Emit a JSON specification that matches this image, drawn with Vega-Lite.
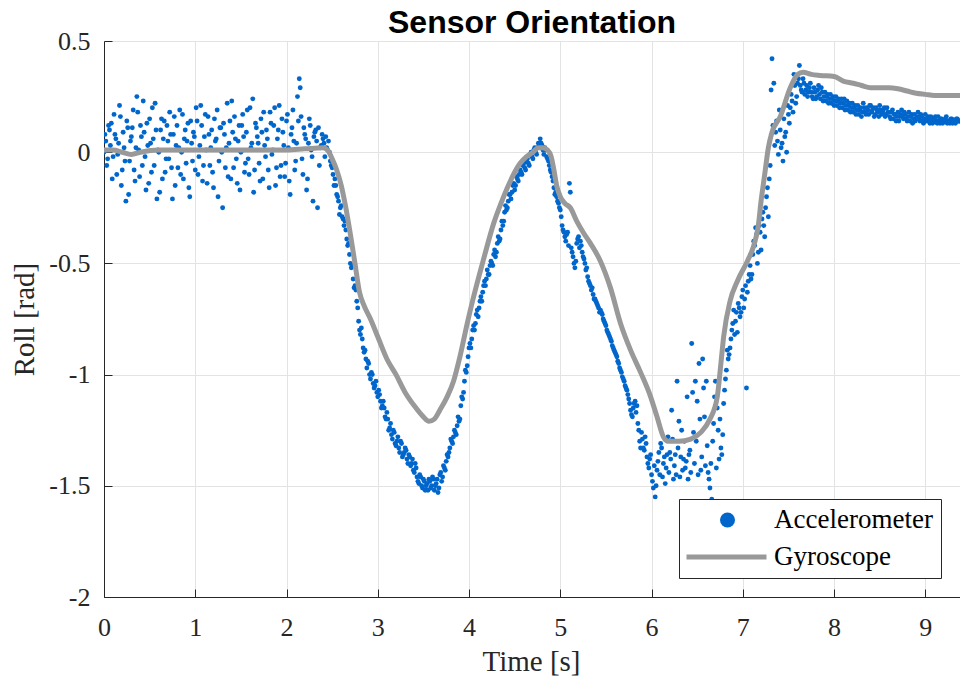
{
  "$schema": "https://vega.github.io/schema/vega-lite/v6.json",
  "width": 856,
  "height": 556,
  "autosize": {"type": "none"},
  "padding": {"left": 104, "top": 41, "right": 0, "bottom": 85},
  "background": "white",
  "title": {"text": "Sensor Orientation", "font": "Liberation Sans", "fontSize": 32, "fontWeight": "bold", "color": "#000000", "anchor": "middle", "baseline": "alphabetic", "offset": 9, "dy": 46},
  "config": {"view": {"stroke": null}},
  "datasets": {
    "acc": [
      {"t":0.00,"v":0.00},{"t":0.02,"v":0.05},{"t":0.04,"v":-0.03},{"t":0.06,"v":0.10},{"t":0.08,"v":0.13},{"t":0.10,"v":-0.02},{"t":0.12,"v":0.08},{"t":0.14,"v":-0.10},{"t":0.16,"v":0.04},{"t":0.18,"v":0.16},
      {"t":0.20,"v":-0.08},{"t":0.22,"v":0.02},{"t":0.24,"v":-0.22},{"t":0.26,"v":0.11},{"t":0.28,"v":-0.04},{"t":0.30,"v":0.07},{"t":0.32,"v":0.19},{"t":0.34,"v":-0.13},{"t":0.36,"v":0.25},{"t":0.38,"v":0.01},
      {"t":0.40,"v":0.12},{"t":0.42,"v":-0.06},{"t":0.44,"v":0.09},{"t":0.46,"v":-0.17},{"t":0.48,"v":0.03},{"t":0.50,"v":0.15},{"t":0.52,"v":-0.09},{"t":0.54,"v":0.06},{"t":0.56,"v":0.22},{"t":0.58,"v":-0.21},
      {"t":0.60,"v":0.00},{"t":0.62,"v":0.10},{"t":0.64,"v":-0.12},{"t":0.66,"v":0.14},{"t":0.68,"v":-0.03},{"t":0.70,"v":0.05},{"t":0.72,"v":0.18},{"t":0.74,"v":-0.07},{"t":0.76,"v":0.08},{"t":0.78,"v":-0.15},
      {"t":0.80,"v":0.12},{"t":0.82,"v":0.02},{"t":0.84,"v":-0.10},{"t":0.86,"v":0.17},{"t":0.88,"v":0.06},{"t":0.90,"v":-0.05},{"t":0.92,"v":0.13},{"t":0.94,"v":-0.20},{"t":0.96,"v":0.04},{"t":0.98,"v":0.09},
      {"t":1.00,"v":-0.08},{"t":1.02,"v":0.14},{"t":1.04,"v":-0.02},{"t":1.06,"v":0.21},{"t":1.08,"v":-0.13},{"t":1.10,"v":0.07},{"t":1.12,"v":0.01},{"t":1.14,"v":0.16},{"t":1.16,"v":-0.06},{"t":1.18,"v":0.10},
      {"t":1.20,"v":-0.16},{"t":1.22,"v":0.05},{"t":1.24,"v":0.19},{"t":1.26,"v":-0.04},{"t":1.28,"v":0.11},{"t":1.30,"v":-0.25},{"t":1.32,"v":0.08},{"t":1.34,"v":0.02},{"t":1.36,"v":-0.11},{"t":1.38,"v":0.14},
      {"t":1.40,"v":0.23},{"t":1.42,"v":-0.07},{"t":1.44,"v":0.06},{"t":1.46,"v":-0.14},{"t":1.48,"v":0.12},{"t":1.50,"v":0.00},{"t":1.52,"v":0.17},{"t":1.54,"v":-0.09},{"t":1.56,"v":0.09},{"t":1.58,"v":-0.03},
      {"t":1.60,"v":0.20},{"t":1.62,"v":0.04},{"t":1.64,"v":-0.18},{"t":1.66,"v":0.13},{"t":1.68,"v":0.07},{"t":1.70,"v":-0.05},{"t":1.72,"v":0.15},{"t":1.74,"v":-0.12},{"t":1.76,"v":0.03},{"t":1.78,"v":0.10},
      {"t":1.80,"v":-0.08},{"t":1.82,"v":0.18},{"t":1.84,"v":-0.01},{"t":1.86,"v":0.12},{"t":1.88,"v":-0.15},{"t":1.90,"v":0.06},{"t":1.92,"v":0.21},{"t":1.94,"v":-0.06},{"t":1.96,"v":0.09},{"t":1.98,"v":-0.11},
      {"t":2.00,"v":0.14},{"t":2.02,"v":0.02},{"t":2.04,"v":-0.19},{"t":2.06,"v":0.11},{"t":2.08,"v":0.05},{"t":2.10,"v":-0.04},{"t":2.12,"v":0.25},{"t":2.14,"v":0.33},{"t":2.16,"v":0.16},{"t":2.18,"v":-0.10},
      {"t":2.20,"v":0.08},{"t":2.22,"v":-0.17},{"t":2.24,"v":0.04},{"t":2.26,"v":0.12},{"t":2.28,"v":-0.02},{"t":2.30,"v":0.07},{"t":2.32,"v":0.10},{"t":2.34,"v":-0.25},{"t":2.36,"v":-0.06},{"t":2.38,"v":0.03},
      {"t":2.40,"v":0.06},{"t":2.42,"v":-0.02},{"t":2.44,"v":0.02},{"t":2.46,"v":0.05},{"t":2.48,"v":-0.04},{"t":2.50,"v":-0.07},{"t":2.52,"v":-0.15},{"t":2.54,"v":-0.15},{"t":2.56,"v":-0.20},{"t":2.58,"v":-0.28},
      {"t":2.60,"v":-0.24},{"t":2.62,"v":-0.30},{"t":2.64,"v":-0.31},{"t":2.66,"v":-0.39},{"t":2.68,"v":-0.41},{"t":2.70,"v":-0.50},{"t":2.72,"v":-0.51},{"t":2.74,"v":-0.61},{"t":2.76,"v":-0.62},{"t":2.78,"v":-0.70},
      {"t":2.80,"v":-0.80},{"t":2.82,"v":-0.79},{"t":2.84,"v":-0.88},{"t":2.86,"v":-0.89},{"t":2.88,"v":-0.97},{"t":2.90,"v":-0.95},{"t":2.92,"v":-1.02},{"t":2.94,"v":-1.00},{"t":2.96,"v":-1.06},{"t":2.98,"v":-1.03},
      {"t":3.00,"v":-1.10},{"t":3.02,"v":-1.09},{"t":3.04,"v":-1.15},{"t":3.06,"v":-1.12},{"t":3.08,"v":-1.19},{"t":3.10,"v":-1.17},{"t":3.12,"v":-1.25},{"t":3.14,"v":-1.22},{"t":3.16,"v":-1.29},{"t":3.18,"v":-1.26},
      {"t":3.20,"v":-1.32},{"t":3.22,"v":-1.28},{"t":3.24,"v":-1.35},{"t":3.26,"v":-1.31},{"t":3.28,"v":-1.36},{"t":3.30,"v":-1.33},{"t":3.32,"v":-1.38},{"t":3.34,"v":-1.36},{"t":3.36,"v":-1.41},{"t":3.38,"v":-1.38},
      {"t":3.40,"v":-1.44},{"t":3.42,"v":-1.42},{"t":3.44,"v":-1.48},{"t":3.46,"v":-1.45},{"t":3.48,"v":-1.50},{"t":3.50,"v":-1.47},{"t":3.52,"v":-1.52},{"t":3.54,"v":-1.49},{"t":3.56,"v":-1.47},{"t":3.58,"v":-1.51},
      {"t":3.60,"v":-1.46},{"t":3.62,"v":-1.52},{"t":3.64,"v":-1.49},{"t":3.66,"v":-1.53},{"t":3.68,"v":-1.45},{"t":3.70,"v":-1.48},{"t":3.72,"v":-1.41},{"t":3.74,"v":-1.43},{"t":3.76,"v":-1.36},{"t":3.78,"v":-1.35},
      {"t":3.80,"v":-1.29},{"t":3.82,"v":-1.31},{"t":3.84,"v":-1.25},{"t":3.86,"v":-1.27},{"t":3.88,"v":-1.19},{"t":3.90,"v":-1.20},{"t":3.92,"v":-1.10},{"t":3.94,"v":-1.08},{"t":3.96,"v":-0.98},{"t":3.98,"v":-0.96},
      {"t":4.00,"v":-0.88},{"t":4.02,"v":-0.88},{"t":4.04,"v":-0.80},{"t":4.06,"v":-0.80},{"t":4.08,"v":-0.73},{"t":4.10,"v":-0.74},{"t":4.12,"v":-0.67},{"t":4.14,"v":-0.67},{"t":4.16,"v":-0.60},{"t":4.18,"v":-0.60},
      {"t":4.20,"v":-0.53},{"t":4.22,"v":-0.55},{"t":4.24,"v":-0.49},{"t":4.26,"v":-0.51},{"t":4.28,"v":-0.44},{"t":4.30,"v":-0.45},{"t":4.32,"v":-0.38},{"t":4.34,"v":-0.39},{"t":4.36,"v":-0.31},{"t":4.38,"v":-0.31},
      {"t":4.40,"v":-0.24},{"t":4.42,"v":-0.25},{"t":4.44,"v":-0.19},{"t":4.46,"v":-0.21},{"t":4.48,"v":-0.15},{"t":4.50,"v":-0.17},{"t":4.52,"v":-0.11},{"t":4.54,"v":-0.13},{"t":4.56,"v":-0.08},{"t":4.58,"v":-0.10},
      {"t":4.60,"v":-0.05},{"t":4.62,"v":-0.08},{"t":4.64,"v":-0.03},{"t":4.66,"v":-0.06},{"t":4.68,"v":0.00},{"t":4.70,"v":-0.03},{"t":4.72,"v":0.02},{"t":4.74,"v":-0.01},{"t":4.76,"v":0.04},{"t":4.78,"v":0.06},
      {"t":4.80,"v":0.03},{"t":4.82,"v":-0.01},{"t":4.84,"v":0.01},{"t":4.86,"v":-0.03},{"t":4.88,"v":-0.06},{"t":4.90,"v":-0.09},{"t":4.92,"v":-0.13},{"t":4.94,"v":-0.19},{"t":4.96,"v":-0.20},{"t":4.98,"v":-0.23},
      {"t":5.00,"v":-0.26},{"t":5.02,"v":-0.33},{"t":5.04,"v":-0.36},{"t":5.06,"v":-0.40},{"t":5.08,"v":-0.36},{"t":5.10,"v":-0.14},{"t":5.12,"v":-0.43},{"t":5.14,"v":-0.47},{"t":5.16,"v":-0.52},{"t":5.18,"v":-0.41},
      {"t":5.20,"v":-0.38},{"t":5.22,"v":-0.40},{"t":5.24,"v":-0.45},{"t":5.26,"v":-0.48},{"t":5.28,"v":-0.53},{"t":5.30,"v":-0.56},{"t":5.32,"v":-0.59},{"t":5.34,"v":-0.62},{"t":5.36,"v":-0.64},{"t":5.38,"v":-0.66},
      {"t":5.40,"v":-0.68},{"t":5.42,"v":-0.70},{"t":5.44,"v":-0.71},{"t":5.46,"v":-0.73},{"t":5.48,"v":-0.76},{"t":5.50,"v":-0.78},{"t":5.52,"v":-0.81},{"t":5.54,"v":-0.83},{"t":5.56,"v":-0.85},{"t":5.58,"v":-0.88},
      {"t":5.60,"v":-0.90},{"t":5.62,"v":-0.92},{"t":5.64,"v":-0.95},{"t":5.66,"v":-0.98},{"t":5.68,"v":-1.01},{"t":5.70,"v":-1.03},{"t":5.72,"v":-1.06},{"t":5.74,"v":-1.09},{"t":5.76,"v":-1.13},{"t":5.78,"v":-1.18},
      {"t":5.80,"v":-1.15},{"t":5.82,"v":-1.12},{"t":5.84,"v":-1.14},{"t":5.86,"v":-1.25},{"t":5.88,"v":-1.33},{"t":5.90,"v":-1.29},{"t":5.92,"v":-1.34},{"t":5.94,"v":-1.31},{"t":5.96,"v":-1.40},{"t":5.98,"v":-1.38},
      {"t":6.00,"v":-1.45},{"t":6.02,"v":-1.51},{"t":6.04,"v":-1.55},{"t":6.06,"v":-1.43},{"t":6.08,"v":-1.35},{"t":6.10,"v":-1.31},{"t":6.12,"v":-1.46},{"t":6.14,"v":-1.37},{"t":6.16,"v":-1.42},{"t":6.18,"v":-1.28},
      {"t":6.20,"v":-1.35},{"t":6.22,"v":-1.16},{"t":6.24,"v":-1.47},{"t":6.26,"v":-1.36},{"t":6.28,"v":-1.03},{"t":6.30,"v":-1.21},{"t":6.32,"v":-1.37},{"t":6.34,"v":-1.43},{"t":6.36,"v":-1.30},{"t":6.38,"v":-1.39},
      {"t":6.40,"v":-1.47},{"t":6.42,"v":-1.34},{"t":6.44,"v":-0.86},{"t":6.46,"v":-1.26},{"t":6.48,"v":-1.03},{"t":6.50,"v":-1.12},{"t":6.52,"v":-0.95},{"t":6.54,"v":-1.43},{"t":6.56,"v":-0.93},{"t":6.58,"v":-1.19},
      {"t":6.60,"v":-1.03},{"t":6.62,"v":-1.44},{"t":6.64,"v":-1.51},{"t":6.66,"v":-1.56},{"t":6.68,"v":-1.22},{"t":6.70,"v":-1.03},{"t":6.72,"v":-1.15},{"t":6.74,"v":-1.38},{"t":6.76,"v":-1.33},{"t":6.78,"v":-1.27},
      {"t":6.80,"v":-1.07},{"t":6.82,"v":-0.98},{"t":6.84,"v":-0.93},{"t":6.86,"v":-0.88},{"t":6.88,"v":-0.80},{"t":6.90,"v":-0.71},{"t":6.92,"v":-0.76},{"t":6.94,"v":-0.81},{"t":6.96,"v":-0.70},{"t":6.98,"v":-0.72},
      {"t":7.00,"v":-0.62},{"t":7.02,"v":-0.66},{"t":7.04,"v":-1.06},{"t":7.06,"v":-0.58},{"t":7.08,"v":-0.51},{"t":7.10,"v":-0.55},{"t":7.12,"v":-0.40},{"t":7.14,"v":-0.34},{"t":7.16,"v":-0.50},{"t":7.18,"v":-0.33},
      {"t":7.20,"v":-0.44},{"t":7.22,"v":-0.27},{"t":7.24,"v":-0.38},{"t":7.26,"v":-0.20},{"t":7.28,"v":-0.29},{"t":7.30,"v":-0.06},{"t":7.32,"v":0.42},{"t":7.34,"v":0.31},{"t":7.36,"v":0.09},{"t":7.38,"v":0.05},
      {"t":7.40,"v":0.19},{"t":7.42,"v":0.02},{"t":7.44,"v":-0.04},{"t":7.46,"v":0.07},{"t":7.48,"v":0.00},{"t":7.50,"v":0.17},{"t":7.52,"v":0.20},{"t":7.54,"v":0.23},{"t":7.56,"v":0.35},{"t":7.58,"v":0.22},
      {"t":7.60,"v":0.31},{"t":7.62,"v":0.39},{"t":7.64,"v":0.28},{"t":7.66,"v":0.33},{"t":7.68,"v":0.26},{"t":7.70,"v":0.30},{"t":7.72,"v":0.27},{"t":7.74,"v":0.31},{"t":7.76,"v":0.25},{"t":7.78,"v":0.29},
      {"t":7.80,"v":0.24},{"t":7.82,"v":0.28},{"t":7.84,"v":0.26},{"t":7.86,"v":0.29},{"t":7.88,"v":0.23},{"t":7.90,"v":0.27},{"t":7.92,"v":0.25},{"t":7.94,"v":0.22},{"t":7.96,"v":0.26},{"t":7.98,"v":0.24},
      {"t":8.00,"v":0.21},{"t":8.02,"v":0.25},{"t":8.04,"v":0.23},{"t":8.06,"v":0.20},{"t":8.08,"v":0.24},{"t":8.10,"v":0.22},{"t":8.12,"v":0.19},{"t":8.14,"v":0.23},{"t":8.16,"v":0.21},{"t":8.18,"v":0.18},
      {"t":8.20,"v":0.22},{"t":8.22,"v":0.20},{"t":8.24,"v":0.17},{"t":8.26,"v":0.21},{"t":8.28,"v":0.19},{"t":8.30,"v":0.16},{"t":8.32,"v":0.22},{"t":8.34,"v":0.18},{"t":8.36,"v":0.20},{"t":8.38,"v":0.17},
      {"t":8.40,"v":0.21},{"t":8.42,"v":0.19},{"t":8.44,"v":0.16},{"t":8.46,"v":0.20},{"t":8.48,"v":0.18},{"t":8.50,"v":0.21},{"t":8.52,"v":0.17},{"t":8.54,"v":0.19},{"t":8.56,"v":0.16},{"t":8.58,"v":0.20},
      {"t":8.60,"v":0.18},{"t":8.62,"v":0.15},{"t":8.64,"v":0.19},{"t":8.66,"v":0.17},{"t":8.68,"v":0.14},{"t":8.70,"v":0.18},{"t":8.72,"v":0.16},{"t":8.74,"v":0.19},{"t":8.76,"v":0.15},{"t":8.78,"v":0.17},
      {"t":8.80,"v":0.14},{"t":8.82,"v":0.18},{"t":8.84,"v":0.16},{"t":8.86,"v":0.13},{"t":8.88,"v":0.17},{"t":8.90,"v":0.15},{"t":8.92,"v":0.18},{"t":8.94,"v":0.14},{"t":8.96,"v":0.16},{"t":8.98,"v":0.13},
      {"t":9.00,"v":0.17},{"t":9.02,"v":0.15},{"t":9.04,"v":0.14},{"t":9.06,"v":0.16},{"t":9.08,"v":0.13},{"t":9.10,"v":0.15},{"t":9.12,"v":0.14},{"t":9.14,"v":0.16},{"t":9.16,"v":0.13},{"t":9.18,"v":0.15},
      {"t":9.20,"v":0.14},{"t":9.22,"v":0.15},{"t":9.24,"v":0.13},{"t":9.26,"v":0.14},{"t":9.28,"v":0.15},{"t":9.30,"v":0.13},{"t":9.32,"v":0.14},{"t":9.34,"v":0.15},{"t":9.36,"v":0.14},{"t":9.38,"v":0.14},
      {"t":0.01,"v":0.08},{"t":0.03,"v":-0.06},{"t":0.05,"v":0.12},{"t":0.07,"v":0.03},{"t":0.09,"v":-0.12},{"t":0.11,"v":0.17},{"t":0.13,"v":0.06},{"t":0.15,"v":-0.01},{"t":0.17,"v":0.21},{"t":0.19,"v":-0.15},
      {"t":0.21,"v":0.09},{"t":0.23,"v":-0.04},{"t":0.25,"v":0.14},{"t":0.27,"v":-0.19},{"t":0.29,"v":0.05},{"t":0.31,"v":0.11},{"t":0.33,"v":-0.08},{"t":0.35,"v":0.02},{"t":0.37,"v":0.18},{"t":0.39,"v":-0.11},
      {"t":0.41,"v":0.07},{"t":0.43,"v":0.23},{"t":0.45,"v":-0.02},{"t":0.47,"v":0.13},{"t":0.49,"v":-0.14},{"t":0.51,"v":0.04},{"t":0.53,"v":0.20},{"t":0.55,"v":-0.06},{"t":0.57,"v":0.10},{"t":0.59,"v":0.01},
      {"t":0.61,"v":-0.18},{"t":0.63,"v":0.15},{"t":0.65,"v":0.06},{"t":0.67,"v":-0.09},{"t":0.69,"v":0.12},{"t":0.71,"v":-0.03},{"t":0.73,"v":0.08},{"t":0.75,"v":-0.21},{"t":0.77,"v":0.16},{"t":0.79,"v":0.03},
      {"t":0.81,"v":-0.07},{"t":0.83,"v":0.19},{"t":0.85,"v":0.00},{"t":0.87,"v":-0.12},{"t":0.89,"v":0.10},{"t":0.91,"v":0.05},{"t":0.93,"v":-0.16},{"t":0.95,"v":0.14},{"t":0.97,"v":-0.04},{"t":0.99,"v":0.07},
      {"t":1.01,"v":0.20},{"t":1.03,"v":-0.10},{"t":1.05,"v":0.03},{"t":1.07,"v":0.12},{"t":1.09,"v":-0.06},{"t":1.11,"v":0.17},{"t":1.13,"v":-0.14},{"t":1.15,"v":0.08},{"t":1.17,"v":0.02},{"t":1.19,"v":-0.09},
      {"t":1.21,"v":0.15},{"t":1.23,"v":0.06},{"t":1.25,"v":-0.20},{"t":1.27,"v":0.11},{"t":1.29,"v":0.00},{"t":1.31,"v":0.13},{"t":1.33,"v":-0.07},{"t":1.35,"v":0.22},{"t":1.37,"v":0.04},{"t":1.39,"v":-0.12},
      {"t":1.41,"v":0.09},{"t":1.43,"v":0.16},{"t":1.45,"v":-0.03},{"t":1.47,"v":0.05},{"t":1.49,"v":-0.17},{"t":1.51,"v":0.12},{"t":1.53,"v":0.07},{"t":1.55,"v":-0.05},{"t":1.57,"v":0.19},{"t":1.59,"v":-0.10},
      {"t":1.61,"v":0.02},{"t":1.63,"v":0.24},{"t":1.65,"v":-0.08},{"t":1.67,"v":0.11},{"t":1.69,"v":0.04},{"t":1.71,"v":-0.13},{"t":1.73,"v":0.09},{"t":1.75,"v":0.18},{"t":1.77,"v":-0.02},{"t":1.79,"v":0.06},
      {"t":1.81,"v":-0.16},{"t":1.83,"v":0.13},{"t":1.85,"v":0.01},{"t":1.87,"v":0.20},{"t":1.89,"v":-0.07},{"t":1.91,"v":0.10},{"t":1.93,"v":-0.11},{"t":1.95,"v":0.15},{"t":1.97,"v":0.03},{"t":1.99,"v":-0.05},
      {"t":2.01,"v":0.17},{"t":2.03,"v":-0.13},{"t":2.05,"v":0.08},{"t":2.07,"v":0.19},{"t":2.09,"v":-0.08},{"t":2.11,"v":0.04},{"t":2.13,"v":0.14},{"t":2.15,"v":0.29},{"t":2.17,"v":-0.03},{"t":2.19,"v":0.11},
      {"t":2.21,"v":0.06},{"t":2.23,"v":-0.12},{"t":2.25,"v":0.15},{"t":2.27,"v":0.01},{"t":2.29,"v":-0.22},{"t":2.31,"v":0.09},{"t":2.33,"v":0.05},{"t":2.35,"v":0.11},{"t":2.37,"v":0.02},{"t":2.39,"v":0.08},
      {"t":2.41,"v":0.04},{"t":2.43,"v":0.07},{"t":2.45,"v":0.01},{"t":2.47,"v":0.00},{"t":2.49,"v":-0.06},{"t":2.51,"v":-0.10},{"t":2.53,"v":-0.12},{"t":2.55,"v":-0.19},{"t":2.57,"v":-0.22},{"t":2.59,"v":-0.25},
      {"t":2.61,"v":-0.29},{"t":2.63,"v":-0.33},{"t":2.65,"v":-0.35},{"t":2.67,"v":-0.42},{"t":2.69,"v":-0.46},{"t":2.71,"v":-0.52},{"t":2.73,"v":-0.57},{"t":2.75,"v":-0.60},{"t":2.77,"v":-0.67},{"t":2.79,"v":-0.76},
      {"t":2.81,"v":-0.82},{"t":2.83,"v":-0.84},{"t":2.85,"v":-0.90},{"t":2.87,"v":-0.93},{"t":2.89,"v":-0.94},{"t":2.91,"v":-1.00},{"t":2.93,"v":-0.99},{"t":2.95,"v":-1.04},{"t":2.97,"v":-1.05},{"t":2.99,"v":-1.08},
      {"t":3.01,"v":-1.07},{"t":3.03,"v":-1.12},{"t":3.05,"v":-1.14},{"t":3.07,"v":-1.15},{"t":3.09,"v":-1.20},{"t":3.11,"v":-1.20},{"t":3.13,"v":-1.24},{"t":3.15,"v":-1.27},{"t":3.17,"v":-1.25},{"t":3.19,"v":-1.31},
      {"t":3.21,"v":-1.30},{"t":3.23,"v":-1.33},{"t":3.25,"v":-1.30},{"t":3.27,"v":-1.37},{"t":3.29,"v":-1.35},{"t":3.31,"v":-1.34},{"t":3.33,"v":-1.40},{"t":3.35,"v":-1.37},{"t":3.37,"v":-1.40},{"t":3.39,"v":-1.43},
      {"t":3.41,"v":-1.40},{"t":3.43,"v":-1.46},{"t":3.45,"v":-1.49},{"t":3.47,"v":-1.46},{"t":3.49,"v":-1.51},{"t":3.51,"v":-1.48},{"t":3.53,"v":-1.50},{"t":3.55,"v":-1.52},{"t":3.57,"v":-1.48},{"t":3.59,"v":-1.50},
      {"t":3.61,"v":-1.47},{"t":3.63,"v":-1.50},{"t":3.65,"v":-1.47},{"t":3.67,"v":-1.51},{"t":3.69,"v":-1.44},{"t":3.71,"v":-1.46},{"t":3.73,"v":-1.42},{"t":3.75,"v":-1.39},{"t":3.77,"v":-1.37},{"t":3.79,"v":-1.33},
      {"t":3.81,"v":-1.30},{"t":3.83,"v":-1.28},{"t":3.85,"v":-1.26},{"t":3.87,"v":-1.23},{"t":3.89,"v":-1.21},{"t":3.91,"v":-1.14},{"t":3.93,"v":-1.11},{"t":3.95,"v":-1.03},{"t":3.97,"v":-0.99},{"t":3.99,"v":-0.92},
      {"t":4.01,"v":-0.86},{"t":4.03,"v":-0.84},{"t":4.05,"v":-0.78},{"t":4.07,"v":-0.77},{"t":4.09,"v":-0.71},{"t":4.11,"v":-0.70},{"t":4.13,"v":-0.65},{"t":4.15,"v":-0.63},{"t":4.17,"v":-0.58},{"t":4.19,"v":-0.57},
      {"t":4.21,"v":-0.55},{"t":4.23,"v":-0.51},{"t":4.25,"v":-0.50},{"t":4.27,"v":-0.46},{"t":4.29,"v":-0.47},{"t":4.31,"v":-0.41},{"t":4.33,"v":-0.40},{"t":4.35,"v":-0.35},{"t":4.37,"v":-0.33},{"t":4.39,"v":-0.27},
      {"t":4.41,"v":-0.26},{"t":4.43,"v":-0.22},{"t":4.45,"v":-0.19},{"t":4.47,"v":-0.18},{"t":4.49,"v":-0.14},{"t":4.51,"v":-0.15},{"t":4.53,"v":-0.12},{"t":4.55,"v":-0.10},{"t":4.57,"v":-0.09},{"t":4.59,"v":-0.06},
      {"t":4.61,"v":-0.07},{"t":4.63,"v":-0.04},{"t":4.65,"v":-0.05},{"t":4.67,"v":-0.01},{"t":4.69,"v":-0.02},{"t":4.71,"v":0.01},{"t":4.73,"v":0.00},{"t":4.75,"v":0.02},{"t":4.77,"v":0.03},{"t":4.79,"v":0.04},
      {"t":4.81,"v":0.01},{"t":4.83,"v":0.02},{"t":4.85,"v":-0.02},{"t":4.87,"v":-0.04},{"t":4.89,"v":-0.08},{"t":4.91,"v":-0.11},{"t":4.93,"v":-0.16},{"t":4.95,"v":-0.18},{"t":4.97,"v":-0.22},{"t":4.99,"v":-0.25},
      {"t":5.01,"v":-0.29},{"t":5.03,"v":-0.35},{"t":5.05,"v":-0.38},{"t":5.07,"v":-0.37},{"t":5.09,"v":-0.42},{"t":5.11,"v":-0.18},{"t":5.13,"v":-0.45},{"t":5.15,"v":-0.50},{"t":5.17,"v":-0.49},{"t":5.19,"v":-0.39},
      {"t":5.21,"v":-0.43},{"t":5.23,"v":-0.42},{"t":5.25,"v":-0.47},{"t":5.27,"v":-0.50},{"t":5.29,"v":-0.52},{"t":5.31,"v":-0.58},{"t":5.33,"v":-0.60},{"t":5.35,"v":-0.61},{"t":5.37,"v":-0.66},{"t":5.39,"v":-0.67},
      {"t":5.41,"v":-0.69},{"t":5.43,"v":-0.72},{"t":5.45,"v":-0.72},{"t":5.47,"v":-0.75},{"t":5.49,"v":-0.77},{"t":5.51,"v":-0.80},{"t":5.53,"v":-0.82},{"t":5.55,"v":-0.84},{"t":5.57,"v":-0.87},{"t":5.59,"v":-0.89},
      {"t":5.61,"v":-0.91},{"t":5.63,"v":-0.94},{"t":5.65,"v":-0.97},{"t":5.67,"v":-0.99},{"t":5.69,"v":-1.02},{"t":5.71,"v":-1.05},{"t":5.73,"v":-1.07},{"t":5.75,"v":-1.11},{"t":5.77,"v":-1.16},{"t":5.79,"v":-1.19},
      {"t":5.81,"v":-1.13},{"t":5.83,"v":-1.17},{"t":5.85,"v":-1.22},{"t":5.87,"v":-1.30},{"t":5.89,"v":-1.26},{"t":5.91,"v":-1.33},{"t":5.93,"v":-1.28},{"t":5.95,"v":-1.37},{"t":5.97,"v":-1.42},{"t":5.99,"v":-1.36},
      {"t":6.01,"v":-1.48},{"t":6.03,"v":-1.41},{"t":6.05,"v":-1.50},{"t":6.07,"v":-1.39},{"t":6.09,"v":-1.45},{"t":6.11,"v":-1.33},{"t":6.13,"v":-1.40},{"t":6.15,"v":-1.49},{"t":6.17,"v":-1.36},{"t":6.19,"v":-1.44},
      {"t":6.21,"v":-1.38},{"t":6.23,"v":-1.29},{"t":6.25,"v":-1.41},{"t":6.27,"v":-1.45},{"t":6.29,"v":-1.33},{"t":6.31,"v":-1.46},{"t":6.33,"v":-1.25},{"t":6.35,"v":-1.38},{"t":6.37,"v":-1.42},{"t":6.39,"v":-1.10},
      {"t":6.41,"v":-1.36},{"t":6.43,"v":-1.44},{"t":6.45,"v":-1.08},{"t":6.47,"v":-1.40},{"t":6.49,"v":-1.30},{"t":6.51,"v":-1.45},{"t":6.53,"v":-1.20},{"t":6.55,"v":-1.37},{"t":6.57,"v":-1.06},{"t":6.59,"v":-1.41},
      {"t":6.61,"v":-1.32},{"t":6.63,"v":-1.47},{"t":6.65,"v":-1.40},{"t":6.67,"v":-1.30},{"t":6.69,"v":-1.10},{"t":6.71,"v":-1.42},{"t":6.73,"v":-1.25},{"t":6.75,"v":-1.20},{"t":6.77,"v":-1.36},{"t":6.79,"v":-1.13},
      {"t":6.81,"v":-1.02},{"t":6.83,"v":-0.89},{"t":6.85,"v":-0.91},{"t":6.87,"v":-0.84},{"t":6.89,"v":-0.77},{"t":6.91,"v":-0.82},{"t":6.93,"v":-0.72},{"t":6.95,"v":-0.68},{"t":6.97,"v":-0.74},{"t":6.99,"v":-0.65},
      {"t":7.01,"v":-0.70},{"t":7.03,"v":-0.60},{"t":7.05,"v":-0.63},{"t":7.07,"v":-0.55},{"t":7.09,"v":-0.57},{"t":7.11,"v":-0.46},{"t":7.13,"v":-0.42},{"t":7.15,"v":-0.37},{"t":7.17,"v":-0.45},{"t":7.19,"v":-0.36},
      {"t":7.21,"v":-0.30},{"t":7.23,"v":-0.33},{"t":7.25,"v":-0.25},{"t":7.27,"v":-0.16},{"t":7.29,"v":-0.12},{"t":7.31,"v":0.28},{"t":7.33,"v":0.12},{"t":7.35,"v":0.03},{"t":7.37,"v":0.14},{"t":7.39,"v":-0.01},
      {"t":7.41,"v":0.10},{"t":7.43,"v":0.04},{"t":7.45,"v":0.15},{"t":7.47,"v":0.09},{"t":7.49,"v":0.21},{"t":7.51,"v":0.13},{"t":7.53,"v":0.26},{"t":7.55,"v":0.18},{"t":7.57,"v":0.30},{"t":7.59,"v":0.25},
      {"t":7.61,"v":0.33},{"t":7.63,"v":0.30},{"t":7.65,"v":0.27},{"t":7.67,"v":0.31},{"t":7.69,"v":0.28},{"t":7.71,"v":0.25},{"t":7.73,"v":0.29},{"t":7.75,"v":0.27},{"t":7.77,"v":0.24},{"t":7.79,"v":0.27},
      {"t":7.81,"v":0.25},{"t":7.83,"v":0.30},{"t":7.85,"v":0.24},{"t":7.87,"v":0.27},{"t":7.89,"v":0.25},{"t":7.91,"v":0.23},{"t":7.93,"v":0.26},{"t":7.95,"v":0.24},{"t":7.97,"v":0.22},{"t":7.99,"v":0.25},
      {"t":8.01,"v":0.23},{"t":8.03,"v":0.21},{"t":8.05,"v":0.24},{"t":8.07,"v":0.22},{"t":8.09,"v":0.20},{"t":8.11,"v":0.24},{"t":8.13,"v":0.21},{"t":8.15,"v":0.19},{"t":8.17,"v":0.22},{"t":8.19,"v":0.20},
      {"t":8.21,"v":0.18},{"t":8.23,"v":0.21},{"t":8.25,"v":0.19},{"t":8.27,"v":0.17},{"t":8.29,"v":0.20},{"t":8.31,"v":0.18},{"t":8.33,"v":0.20},{"t":8.35,"v":0.17},{"t":8.37,"v":0.19},{"t":8.39,"v":0.21},
      {"t":8.41,"v":0.18},{"t":8.43,"v":0.20},{"t":8.45,"v":0.17},{"t":8.47,"v":0.19},{"t":8.49,"v":0.16},{"t":8.51,"v":0.19},{"t":8.53,"v":0.18},{"t":8.55,"v":0.20},{"t":8.57,"v":0.17},{"t":8.59,"v":0.18},
      {"t":8.61,"v":0.16},{"t":8.63,"v":0.18},{"t":8.65,"v":0.15},{"t":8.67,"v":0.17},{"t":8.69,"v":0.16},{"t":8.71,"v":0.14},{"t":8.73,"v":0.17},{"t":8.75,"v":0.16},{"t":8.77,"v":0.18},{"t":8.79,"v":0.15},
      {"t":8.81,"v":0.16},{"t":8.83,"v":0.14},{"t":8.85,"v":0.17},{"t":8.87,"v":0.15},{"t":8.89,"v":0.14},{"t":8.91,"v":0.16},{"t":8.93,"v":0.15},{"t":8.95,"v":0.17},{"t":8.97,"v":0.14},{"t":8.99,"v":0.15},
      {"t":9.01,"v":0.14},{"t":9.03,"v":0.16},{"t":9.05,"v":0.13},{"t":9.07,"v":0.15},{"t":9.09,"v":0.14},{"t":9.11,"v":0.16},{"t":9.13,"v":0.13},{"t":9.15,"v":0.14},{"t":9.17,"v":0.15},{"t":9.19,"v":0.13},
      {"t":9.21,"v":0.14},{"t":9.23,"v":0.16},{"t":9.25,"v":0.14},{"t":9.27,"v":0.13},{"t":9.29,"v":0.15},{"t":9.31,"v":0.14},{"t":9.33,"v":0.13},{"t":9.35,"v":0.15},{"t":9.37,"v":0.14}
    ],
    "gyro": [
      {"t":0.00,"v":0.01},{"t":0.10,"v":0.01},{"t":0.20,"v":0.0},{"t":0.30,"v":-0.01},{"t":0.40,"v":0.0},{"t":0.60,"v":0.01},{"t":1.00,"v":0.01},{"t":1.50,"v":0.01},{"t":2.00,"v":0.01},{"t":2.20,"v":0.015},
      {"t":2.40,"v":0.02},{"t":2.45,"v":0.01},{"t":2.50,"v":-0.03},{"t":2.55,"v":-0.08},{"t":2.60,"v":-0.15},{"t":2.65,"v":-0.25},{"t":2.70,"v":-0.37},{"t":2.75,"v":-0.50},{"t":2.80,"v":-0.63},{"t":2.85,"v":-0.69},
      {"t":2.92,"v":-0.75},{"t":3.00,"v":-0.83},{"t":3.10,"v":-0.93},{"t":3.20,"v":-1.00},{"t":3.30,"v":-1.08},{"t":3.40,"v":-1.14},{"t":3.50,"v":-1.19},{"t":3.56,"v":-1.21},{"t":3.62,"v":-1.20},{"t":3.68,"v":-1.16},
      {"t":3.76,"v":-1.10},{"t":3.83,"v":-1.03},{"t":3.90,"v":-0.92},{"t":3.98,"v":-0.77},{"t":4.05,"v":-0.65},{"t":4.16,"v":-0.48},{"t":4.27,"v":-0.32},{"t":4.35,"v":-0.23},{"t":4.42,"v":-0.16},{"t":4.50,"v":-0.09},
      {"t":4.56,"v":-0.05},{"t":4.63,"v":-0.02},{"t":4.70,"v":0.0},{"t":4.76,"v":0.02},{"t":4.81,"v":0.02},{"t":4.86,"v":0.01},{"t":4.90,"v":-0.02},{"t":4.93,"v":-0.08},{"t":4.96,"v":-0.15},{"t":5.00,"v":-0.20},
      {"t":5.05,"v":-0.23},{"t":5.11,"v":-0.25},{"t":5.18,"v":-0.31},{"t":5.25,"v":-0.36},{"t":5.33,"v":-0.41},{"t":5.44,"v":-0.49},{"t":5.55,"v":-0.61},{"t":5.66,"v":-0.77},{"t":5.77,"v":-0.89},{"t":5.88,"v":-0.99},
      {"t":5.99,"v":-1.10},{"t":6.06,"v":-1.19},{"t":6.13,"v":-1.28},{"t":6.18,"v":-1.30},{"t":6.30,"v":-1.30},{"t":6.43,"v":-1.29},{"t":6.54,"v":-1.26},{"t":6.64,"v":-1.20},{"t":6.72,"v":-1.10},{"t":6.76,"v":-0.95},
      {"t":6.79,"v":-0.83},{"t":6.86,"v":-0.67},{"t":6.94,"v":-0.58},{"t":7.05,"v":-0.49},{"t":7.12,"v":-0.42},{"t":7.17,"v":-0.33},{"t":7.20,"v":-0.22},{"t":7.24,"v":-0.10},{"t":7.28,"v":0.02},{"t":7.32,"v":0.09},
      {"t":7.41,"v":0.16},{"t":7.52,"v":0.29},{"t":7.60,"v":0.35},{"t":7.66,"v":0.36},{"t":7.75,"v":0.35},{"t":7.85,"v":0.345},{"t":8.00,"v":0.34},{"t":8.10,"v":0.32},{"t":8.21,"v":0.31},{"t":8.30,"v":0.30},
      {"t":8.40,"v":0.29},{"t":8.50,"v":0.29},{"t":8.60,"v":0.29},{"t":8.70,"v":0.285},{"t":8.80,"v":0.275},{"t":8.90,"v":0.265},{"t":9.00,"v":0.26},{"t":9.10,"v":0.255},{"t":9.20,"v":0.255},{"t":9.38,"v":0.255}
    ]
  },
  "encoding": {
    "x": {
      "field": "t", "type": "quantitative",
      "scale": {"domain": [0, 9.38], "nice": false, "zero": false},
      "axis": {
        "title": "Time [s]", "values": [0,1,2,3,4,5,6,7,8,9],
        "labelExpr": "datum.value + ''",
        "grid": true, "gridColor": "#e3e3e3", "gridWidth": 1,
        "domainColor": "#262626", "domainWidth": 1,
        "tickColor": "#262626", "tickSize": -8, "tickWidth": 1,
        "labelFont": "Liberation Serif", "labelFontSize": 26, "labelColor": "#262626",
        "labelBaseline": "alphabetic", "labelPadding": 46, "labelFlush": false, "labelOverlap": false,
        "titleFont": "Liberation Serif", "titleFontSize": 29, "titleFontWeight": "normal", "titleColor": "#262626",
        "titleBaseline": "alphabetic", "titleX": 427, "titleY": 73, "titleAlign": "center"
      }
    },
    "y": {
      "field": "v", "type": "quantitative",
      "scale": {"domain": [-2, 0.5], "nice": false, "zero": false},
      "axis": {
        "title": "Roll [rad]", "values": [-2,-1.5,-1,-0.5,0,0.5],
        "labelExpr": "datum.value + ''",
        "grid": true, "gridColor": "#e3e3e3", "gridWidth": 1,
        "domainColor": "#262626", "domainWidth": 1,
        "tickColor": "#262626", "tickSize": -8, "tickWidth": 1,
        "labelFont": "Liberation Serif", "labelFontSize": 26, "labelColor": "#262626",
        "labelPadding": 22, "labelFlush": false, "labelOverlap": false,
        "titleFont": "Liberation Serif", "titleFontSize": 29, "titleFontWeight": "normal", "titleColor": "#262626",
        "titleBaseline": "alphabetic", "titleX": -71, "titleY": 278, "titleAngle": 270, "titleAlign": "center"
      }
    }
  },
  "layer": [
    {
      "data": {"name": "acc"},
      "mark": {"type": "point", "filled": true, "size": 24, "opacity": 1, "clip": true, "strokeWidth": 0},
      "encoding": {
        "color": {
          "datum": "Accelerometer", "type": "nominal",
          "scale": {"domain": ["Accelerometer", "Gyroscope"], "range": ["#0066cc", "transparent"]},
          "legend": {
            "title": null, "orient": "none", "legendX": 575, "legendY": 458,
            "direction": "vertical",
            "fillColor": "#ffffff", "strokeColor": "#262626",
            "padding": 8, "clipHeight": 26, "rowPadding": 10,
            "symbolType": "circle", "symbolSize": 225, "symbolOffset": 27, "symbolStrokeWidth": 0,
            "labelOffset": 33,
            "labelFont": "Liberation Serif", "labelFontSize": 27, "labelColor": "#000000", "labelBaseline": "middle",
            "labelLimit": 400
          }
        }
      }
    },
    {
      "data": {"name": "gyro"},
      "mark": {"type": "line", "strokeWidth": 5, "clip": true, "interpolate": "monotone"},
      "encoding": {
        "stroke": {
          "datum": "Gyroscope", "type": "nominal",
          "scale": {"domain": ["Gyroscope"], "range": ["#999999"]},
          "legend": {
            "title": null, "orient": "none", "legendX": 580, "legendY": 503,
            "direction": "vertical",
            "padding": 0, "clipHeight": 26,
            "symbolType": "stroke", "symbolSize": 6400, "symbolStrokeWidth": 5,
            "labelExpr": "''", "labelOffset": 0, "labelFontSize": 1
          }
        }
      }
    }
  ]
}
